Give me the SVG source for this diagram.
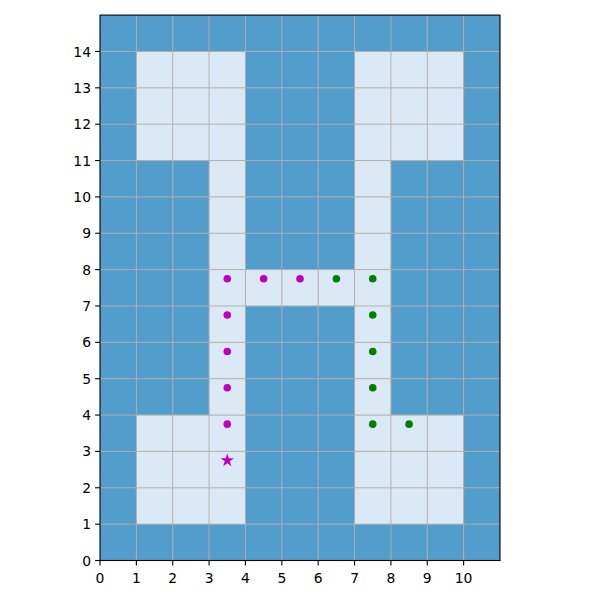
<svg xmlns="http://www.w3.org/2000/svg" width="600" height="600" viewBox="0 0 600 600">
<style>
.dark{fill:#529dcb}
.light{fill:#dbe9f6}
.grid line{stroke:#b0b0b0;stroke-width:1}
.tick line{stroke:#000;stroke-width:1.1}
.tick text{font-family:"DejaVu Sans",sans-serif;font-size:13.9px;fill:#000}
.m{fill:#bf00bf}
.g{fill:#008000}
</style>
<defs>
<path id="star" d="M0,-7 L1.572,-2.163 L6.657,-2.163 L2.543,0.826 L4.114,5.663 L0,2.674 L-4.114,5.663 L-2.543,0.826 L-6.657,-2.163 L-1.572,-2.163 Z"/>
</defs>
<rect x="0" y="0" width="600" height="600" fill="#fff"/>
<g id="cells">
<rect class="dark" x="100" y="15.1" width="400" height="545.4"/>
<rect class="light" x="136.36" y="51.46" width="109.09" height="109.08"/>
<rect class="light" x="209.09" y="160.54" width="36.36" height="254.52"/>
<rect class="light" x="245.45" y="269.62" width="109.1" height="36.36"/>
<rect class="light" x="354.55" y="51.46" width="109.09" height="109.08"/>
<rect class="light" x="354.55" y="160.54" width="36.36" height="254.52"/>
<rect class="light" x="136.36" y="415.06" width="109.09" height="109.08"/>
<rect class="light" x="354.55" y="415.06" width="109.09" height="109.08"/>
</g>
<g class="grid">
<line x1="136.36" y1="15.1" x2="136.36" y2="560.5"/>
<line x1="172.73" y1="15.1" x2="172.73" y2="560.5"/>
<line x1="209.09" y1="15.1" x2="209.09" y2="560.5"/>
<line x1="245.45" y1="15.1" x2="245.45" y2="560.5"/>
<line x1="281.82" y1="15.1" x2="281.82" y2="560.5"/>
<line x1="318.18" y1="15.1" x2="318.18" y2="560.5"/>
<line x1="354.55" y1="15.1" x2="354.55" y2="560.5"/>
<line x1="390.91" y1="15.1" x2="390.91" y2="560.5"/>
<line x1="427.27" y1="15.1" x2="427.27" y2="560.5"/>
<line x1="463.64" y1="15.1" x2="463.64" y2="560.5"/>
<line x1="100" y1="524.14" x2="500" y2="524.14"/>
<line x1="100" y1="487.78" x2="500" y2="487.78"/>
<line x1="100" y1="451.42" x2="500" y2="451.42"/>
<line x1="100" y1="415.06" x2="500" y2="415.06"/>
<line x1="100" y1="378.7" x2="500" y2="378.7"/>
<line x1="100" y1="342.34" x2="500" y2="342.34"/>
<line x1="100" y1="305.98" x2="500" y2="305.98"/>
<line x1="100" y1="269.62" x2="500" y2="269.62"/>
<line x1="100" y1="233.26" x2="500" y2="233.26"/>
<line x1="100" y1="196.9" x2="500" y2="196.9"/>
<line x1="100" y1="160.54" x2="500" y2="160.54"/>
<line x1="100" y1="124.18" x2="500" y2="124.18"/>
<line x1="100" y1="87.82" x2="500" y2="87.82"/>
<line x1="100" y1="51.46" x2="500" y2="51.46"/>
</g>
<g id="path-magenta">
<circle class="m" cx="227.27" cy="278.7" r="3.8"/>
<circle class="m" cx="263.64" cy="278.7" r="3.8"/>
<circle class="m" cx="300" cy="278.7" r="3.8"/>
<circle class="m" cx="227.27" cy="315.07" r="3.8"/>
<circle class="m" cx="227.27" cy="351.43" r="3.8"/>
<circle class="m" cx="227.27" cy="387.79" r="3.8"/>
<circle class="m" cx="227.27" cy="424.15" r="3.8"/>
<use href="#star" class="m" x="227.27" y="460.5"/>
</g>
<g id="path-green">
<circle class="g" cx="336.36" cy="278.7" r="3.8"/>
<circle class="g" cx="372.73" cy="278.7" r="3.8"/>
<circle class="g" cx="372.73" cy="315.07" r="3.8"/>
<circle class="g" cx="372.73" cy="351.43" r="3.8"/>
<circle class="g" cx="372.73" cy="387.79" r="3.8"/>
<circle class="g" cx="372.73" cy="424.15" r="3.8"/>
<circle class="g" cx="409.09" cy="424.15" r="3.8"/>
</g>
<rect x="100" y="15.1" width="400" height="545.4" fill="none" stroke="#000" stroke-width="1.1"/>
<g class="tick" id="xticks">
<line x1="100" y1="560.5" x2="100" y2="565.4"/>
<line x1="136.36" y1="560.5" x2="136.36" y2="565.4"/>
<line x1="172.73" y1="560.5" x2="172.73" y2="565.4"/>
<line x1="209.09" y1="560.5" x2="209.09" y2="565.4"/>
<line x1="245.45" y1="560.5" x2="245.45" y2="565.4"/>
<line x1="281.82" y1="560.5" x2="281.82" y2="565.4"/>
<line x1="318.18" y1="560.5" x2="318.18" y2="565.4"/>
<line x1="354.55" y1="560.5" x2="354.55" y2="565.4"/>
<line x1="390.91" y1="560.5" x2="390.91" y2="565.4"/>
<line x1="427.27" y1="560.5" x2="427.27" y2="565.4"/>
<line x1="463.64" y1="560.5" x2="463.64" y2="565.4"/>
<g text-anchor="middle">
<text x="100" y="583">0</text>
<text x="136.36" y="583">1</text>
<text x="172.73" y="583">2</text>
<text x="209.09" y="583">3</text>
<text x="245.45" y="583">4</text>
<text x="281.82" y="583">5</text>
<text x="318.18" y="583">6</text>
<text x="354.55" y="583">7</text>
<text x="390.91" y="583">8</text>
<text x="427.27" y="583">9</text>
<text x="463.64" y="583">10</text>
</g>
</g>
<g class="tick" id="yticks">
<line x1="95.1" y1="560.5" x2="100" y2="560.5"/>
<line x1="95.1" y1="524.14" x2="100" y2="524.14"/>
<line x1="95.1" y1="487.78" x2="100" y2="487.78"/>
<line x1="95.1" y1="451.42" x2="100" y2="451.42"/>
<line x1="95.1" y1="415.06" x2="100" y2="415.06"/>
<line x1="95.1" y1="378.7" x2="100" y2="378.7"/>
<line x1="95.1" y1="342.34" x2="100" y2="342.34"/>
<line x1="95.1" y1="305.98" x2="100" y2="305.98"/>
<line x1="95.1" y1="269.62" x2="100" y2="269.62"/>
<line x1="95.1" y1="233.26" x2="100" y2="233.26"/>
<line x1="95.1" y1="196.9" x2="100" y2="196.9"/>
<line x1="95.1" y1="160.54" x2="100" y2="160.54"/>
<line x1="95.1" y1="124.18" x2="100" y2="124.18"/>
<line x1="95.1" y1="87.82" x2="100" y2="87.82"/>
<line x1="95.1" y1="51.46" x2="100" y2="51.46"/>
<g text-anchor="end">
<text x="91" y="565.5">0</text>
<text x="91" y="529.1">1</text>
<text x="91" y="492.8">2</text>
<text x="91" y="456.4">3</text>
<text x="91" y="420.1">4</text>
<text x="91" y="383.7">5</text>
<text x="91" y="347.3">6</text>
<text x="91" y="311">7</text>
<text x="91" y="274.6">8</text>
<text x="91" y="238.3">9</text>
<text x="91" y="201.9">10</text>
<text x="91" y="165.5">11</text>
<text x="91" y="129.2">12</text>
<text x="91" y="92.8">13</text>
<text x="91" y="56.5">14</text>
</g>
</g>
</svg>
